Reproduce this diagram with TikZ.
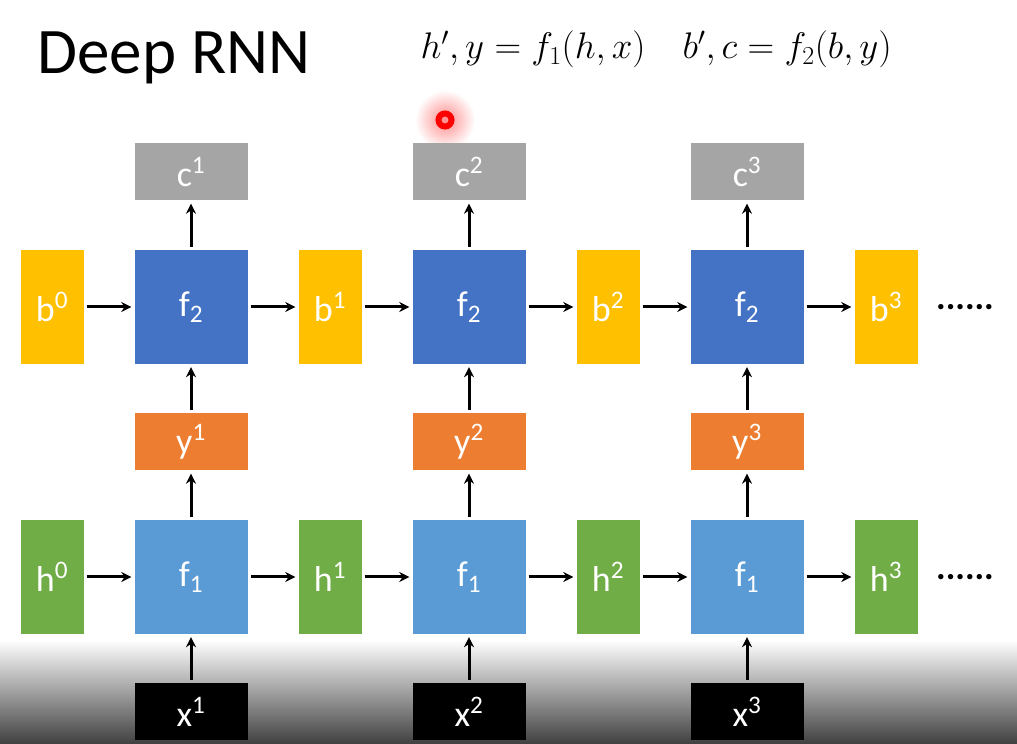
\RequirePackage{fix-cm}
\documentclass[tikz,border=0pt]{standalone}
\usepackage{fontspec}
\setmainfont{Carlito}
\usetikzlibrary{arrows.meta}

\definecolor{stateyellow}{HTML}{FFC000}
\definecolor{topblue}{HTML}{4472C4}
\definecolor{lowblue}{HTML}{5B9BD5}
\definecolor{outorange}{HTML}{ED7D31}
\definecolor{stategreen}{HTML}{70AD47}
\definecolor{outgray}{HTML}{A5A5A5}

\tikzset{
  box/.style={draw=none, inner sep=0pt, text=white, font=\fontsize{36}{40}\selectfont},
  state/.style={box, minimum width=63pt, minimum height=114pt},
  cell/.style={box, minimum width=113pt, minimum height=114pt},
  io/.style={box, minimum width=113pt, minimum height=57pt},
  link/.style={line width=3pt, -{Stealth[length=10pt,width=10pt]}, shorten <=3pt, shorten >=3pt}
}

\begin{document}
\begin{tikzpicture}[x=1pt, y=1pt, node distance=139pt]
                \useasboundingbox (0,0) rectangle (1017,744);
                \fill[white] (0,0) rectangle (1017,744);
                \shade[top color=white, bottom color=black!75] (0,0) rectangle (1017,104);
                \shade[inner color=red!45, outer color=white] (445,624) circle (30pt);
                \draw[red, line width=6pt] (445,624) circle (6.5pt);

                \node[anchor=base west, font=\fontsize{65}{70}\selectfont] (title) at (34,670) {Deep RNN};
                \node[anchor=base west, font=\fontsize{37}{42}\selectfont] (eq) at (417,685) {$h',y=f_1(h,x)\quad b',c=f_2(b,y)$};

                % upper layer
                \node[state, fill=stateyellow] (b0) at (52,437) {b\textsuperscript{0}};
                \node[cell, fill=topblue, right of=b0] (u1) {f\textsubscript{2}};
                \node[state, fill=stateyellow, right of=u1] (b1) {b\textsuperscript{1}};
                \node[cell, fill=topblue, right of=b1] (u2) {f\textsubscript{2}};
                \node[state, fill=stateyellow, right of=u2] (b2) {b\textsuperscript{2}};
                \node[cell, fill=topblue, right of=b2] (u3) {f\textsubscript{2}};
                \node[state, fill=stateyellow, right of=u3] (b3) {b\textsuperscript{3}};
                \node[font=\fontsize{36}{40}\selectfont\bfseries, node distance=79pt, right of=b3] (more1) {......};

                \node[io, fill=outgray, node distance=135pt, above of=u1] (c1) {c\textsuperscript{1}};
                \node[io, fill=outgray, node distance=135pt, above of=u2] (c2) {c\textsuperscript{2}};
                \node[io, fill=outgray, node distance=135pt, above of=u3] (c3) {c\textsuperscript{3}};
                \node[io, fill=outorange, node distance=135pt, below of=u1] (y1) {y\textsuperscript{1}};
                \node[io, fill=outorange, node distance=135pt, below of=u2] (y2) {y\textsuperscript{2}};
                \node[io, fill=outorange, node distance=135pt, below of=u3] (y3) {y\textsuperscript{3}};

                % lower layer
                \node[state, fill=stategreen, node distance=270pt, below of=b0] (h0) {h\textsuperscript{0}};
                \node[cell, fill=lowblue, right of=h0] (l1) {f\textsubscript{1}};
                \node[state, fill=stategreen, right of=l1] (h1) {h\textsuperscript{1}};
                \node[cell, fill=lowblue, right of=h1] (l2) {f\textsubscript{1}};
                \node[state, fill=stategreen, right of=l2] (h2) {h\textsuperscript{2}};
                \node[cell, fill=lowblue, right of=h2] (l3) {f\textsubscript{1}};
                \node[state, fill=stategreen, right of=l3] (h3) {h\textsuperscript{3}};
                \node[font=\fontsize{36}{40}\selectfont\bfseries, node distance=79pt, right of=h3] (more2) {......};

                \node[io, fill=black, node distance=135pt, below of=l1] (x1) {x\textsuperscript{1}};
                \node[io, fill=black, node distance=135pt, below of=l2] (x2) {x\textsuperscript{2}};
                \node[io, fill=black, node distance=135pt, below of=l3] (x3) {x\textsuperscript{3}};

                \draw[link] (b0) -- (u1);
                \draw[link] (u1) -- (b1);
                \draw[link] (b1) -- (u2);
                \draw[link] (u2) -- (b2);
                \draw[link] (b2) -- (u3);
                \draw[link] (u3) -- (b3);

                \draw[link] (h0) -- (l1);
                \draw[link] (l1) -- (h1);
                \draw[link] (h1) -- (l2);
                \draw[link] (l2) -- (h2);
                \draw[link] (h2) -- (l3);
                \draw[link] (l3) -- (h3);

                \draw[link] (x1) -- (l1);
                \draw[link] (x2) -- (l2);
                \draw[link] (x3) -- (l3);
                \draw[link] (l1) -- (y1);
                \draw[link] (l2) -- (y2);
                \draw[link] (l3) -- (y3);
                \draw[link] (y1) -- (u1);
                \draw[link] (y2) -- (u2);
                \draw[link] (y3) -- (u3);
                \draw[link] (u1) -- (c1);
                \draw[link] (u2) -- (c2);
                \draw[link] (u3) -- (c3);
            \end{tikzpicture}
\end{document}
